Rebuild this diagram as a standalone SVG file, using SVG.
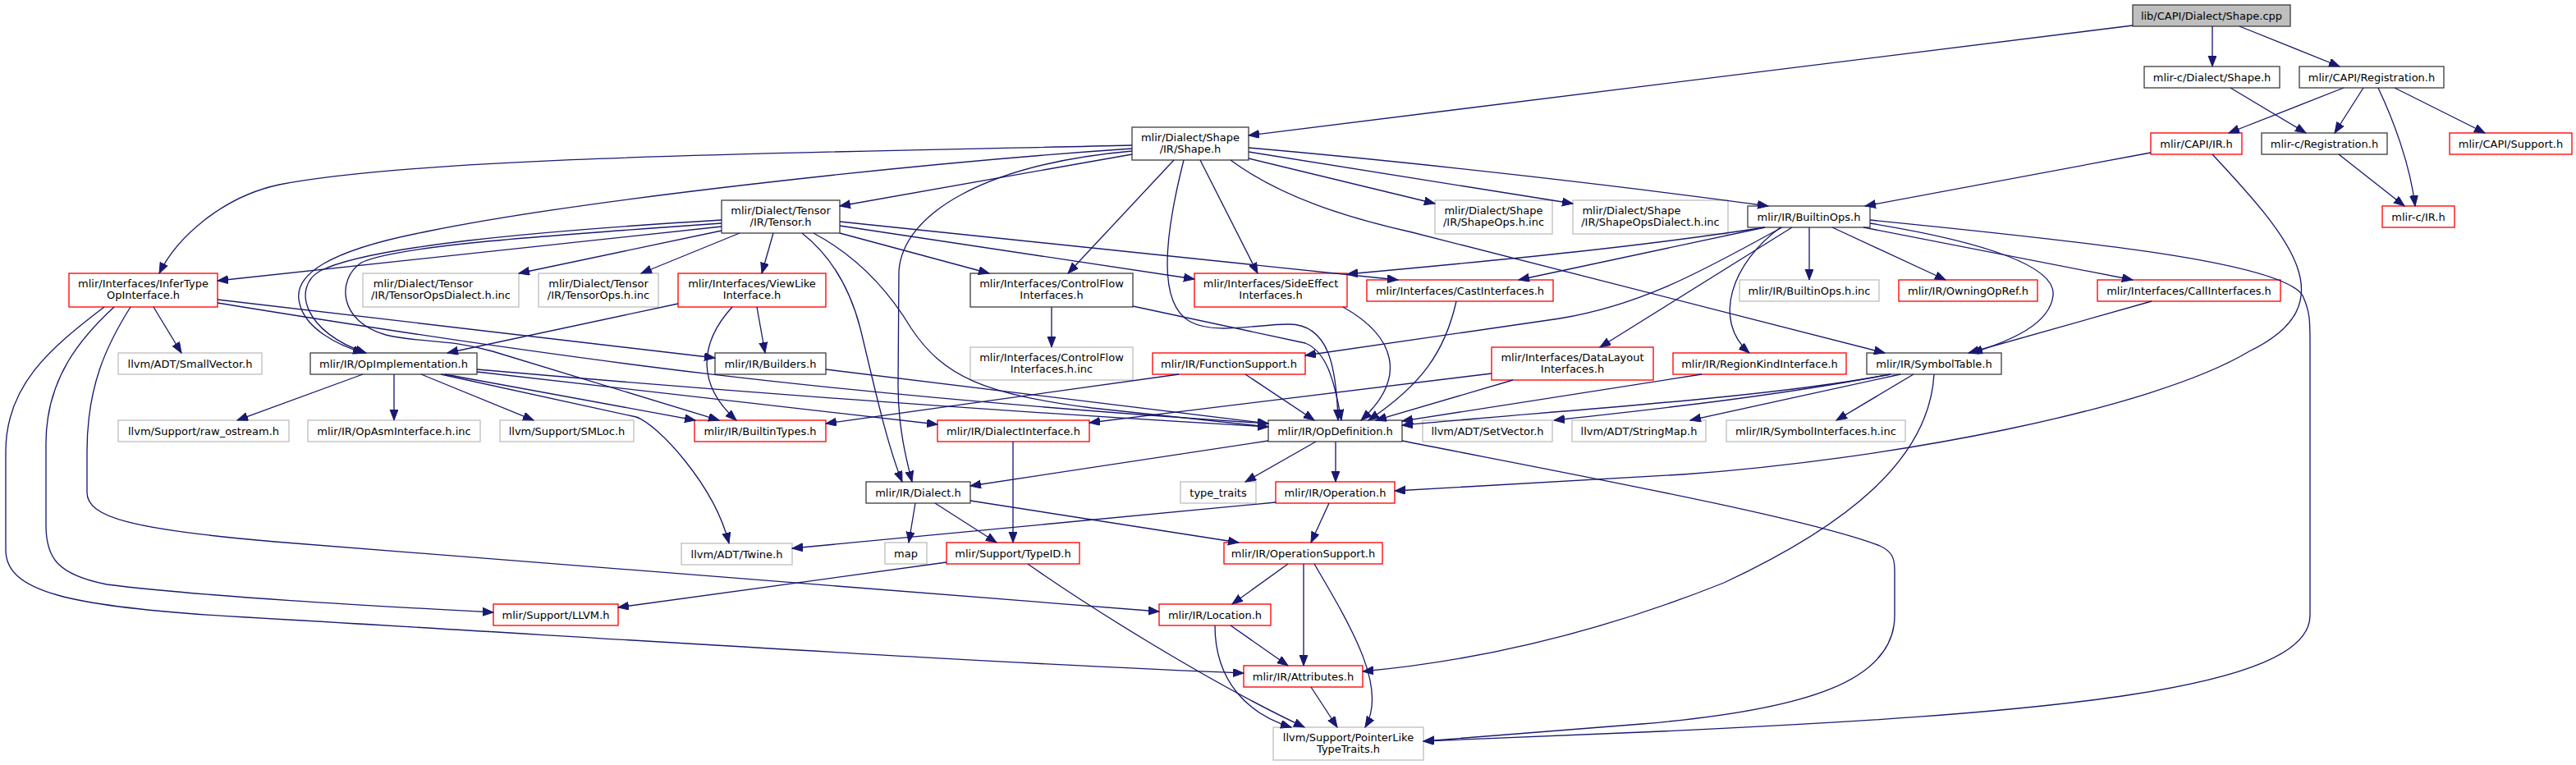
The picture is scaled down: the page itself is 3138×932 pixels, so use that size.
<svg xmlns="http://www.w3.org/2000/svg" width="3138" height="932" viewBox="0 0 3138 932">
<style>
.n rect{fill:#fff;stroke-width:1.33}
.k rect{stroke:#404040}
.r rect{stroke:#ff0000}
.g rect{stroke:#bfbfbf}
#n0 rect{fill:#bfbfbf}
text{font-family:"DejaVu Sans","Liberation Sans",sans-serif;font-size:13px;text-anchor:middle;fill:#000}
#edges path{fill:none;stroke:#191970;stroke-width:1.33;marker-end:url(#a)}
</style>
<defs>
<marker id="a" markerUnits="userSpaceOnUse" markerWidth="14" markerHeight="11" refX="13" refY="5" orient="auto"><path d="M0,0 L13,5 L0,10 z" fill="#191970" stroke="#191970" stroke-width="1"/></marker>
</defs>
<rect width="3138" height="932" fill="#fff"/>
<g id="nodes">
<g id="n0" class="n k"><rect x="2598" y="6" width="192" height="26"/><text x="2694" y="23.5">lib/CAPI/Dialect/Shape.cpp</text></g>
<g id="n1" class="n k"><rect x="2612" y="81" width="165" height="26"/><text x="2694.5" y="98.5">mlir-c/Dialect/Shape.h</text></g>
<g id="n2" class="n k"><rect x="2801" y="81" width="176" height="26"/><text x="2889" y="98.5">mlir/CAPI/Registration.h</text></g>
<g id="n3" class="n r"><rect x="2620" y="162" width="111" height="26"/><text x="2675.5" y="179.5">mlir/CAPI/IR.h</text></g>
<g id="n4" class="n k"><rect x="2755" y="162" width="153" height="26"/><text x="2831.5" y="179.5">mlir-c/Registration.h</text></g>
<g id="n5" class="n r"><rect x="2984" y="162" width="149" height="26"/><text x="3058.5" y="179.5">mlir/CAPI/Support.h</text></g>
<g id="n6" class="n r"><rect x="2902" y="251" width="88" height="26"/><text x="2946" y="268.5">mlir-c/IR.h</text></g>
<g id="n7" class="n k"><rect x="2129" y="251" width="149" height="26"/><text x="2203.5" y="268.5">mlir/IR/BuiltinOps.h</text></g>
<g id="n8" class="n k"><rect x="1379" y="155" width="142" height="40"/><text x="1450" y="171.5">mlir/Dialect/Shape</text><text x="1450" y="186">/IR/Shape.h</text></g>
<g id="n9" class="n g"><rect x="1748" y="244" width="143" height="41"/><text x="1819.5" y="260.5">mlir/Dialect/Shape</text><text x="1819.5" y="275">/IR/ShapeOps.h.inc</text></g>
<g id="n10" class="n g"><rect x="1916" y="244" width="189" height="41"/><text x="1987.5" y="260.5">mlir/Dialect/Shape</text><text x="2010.5" y="275">/IR/ShapeOpsDialect.h.inc</text></g>
<g id="n11" class="n k"><rect x="879" y="244" width="144" height="40"/><text x="951" y="260.5">mlir/Dialect/Tensor</text><text x="951" y="275">/IR/Tensor.h</text></g>
<g id="n12" class="n r"><rect x="84" y="333" width="181" height="41"/><text x="174.5" y="349.5">mlir/Interfaces/InferType</text><text x="174.5" y="364">OpInterface.h</text></g>
<g id="n13" class="n g"><rect x="442" y="333" width="190" height="41"/><text x="515.5" y="349.5">mlir/Dialect/Tensor</text><text x="537" y="364">/IR/TensorOpsDialect.h.inc</text></g>
<g id="n14" class="n g"><rect x="656" y="333" width="146" height="41"/><text x="729" y="349.5">mlir/Dialect/Tensor</text><text x="729" y="364">/IR/TensorOps.h.inc</text></g>
<g id="n15" class="n r"><rect x="826" y="333" width="180" height="41"/><text x="916" y="349.5">mlir/Interfaces/ViewLike</text><text x="916" y="364">Interface.h</text></g>
<g id="n16" class="n k"><rect x="1182" y="333" width="198" height="41"/><text x="1281" y="349.5">mlir/Interfaces/ControlFlow</text><text x="1281" y="364">Interfaces.h</text></g>
<g id="n17" class="n r"><rect x="1455" y="333" width="186" height="41"/><text x="1548" y="349.5">mlir/Interfaces/SideEffect</text><text x="1548" y="364">Interfaces.h</text></g>
<g id="n18" class="n r"><rect x="1665" y="341" width="227" height="26"/><text x="1778.5" y="358.5">mlir/Interfaces/CastInterfaces.h</text></g>
<g id="n19" class="n g"><rect x="2119" y="341" width="170" height="26"/><text x="2204" y="358.5">mlir/IR/BuiltinOps.h.inc</text></g>
<g id="n20" class="n r"><rect x="2313" y="341" width="169" height="26"/><text x="2397.5" y="358.5">mlir/IR/OwningOpRef.h</text></g>
<g id="n21" class="n r"><rect x="2555" y="341" width="223" height="26"/><text x="2666.5" y="358.5">mlir/Interfaces/CallInterfaces.h</text></g>
<g id="n22" class="n g"><rect x="144" y="430" width="175" height="26"/><text x="231.5" y="447.5">llvm/ADT/SmallVector.h</text></g>
<g id="n23" class="n k"><rect x="378" y="430" width="203" height="26"/><text x="479.5" y="447.5">mlir/IR/OpImplementation.h</text></g>
<g id="n24" class="n k"><rect x="871" y="430" width="135" height="26"/><text x="938.5" y="447.5">mlir/IR/Builders.h</text></g>
<g id="n25" class="n g"><rect x="1182" y="423" width="198" height="40"/><text x="1281" y="439.5">mlir/Interfaces/ControlFlow</text><text x="1281" y="454">Interfaces.h.inc</text></g>
<g id="n26" class="n r"><rect x="1404" y="430" width="186" height="26"/><text x="1497" y="447.5">mlir/IR/FunctionSupport.h</text></g>
<g id="n27" class="n r"><rect x="1817" y="423" width="197" height="40"/><text x="1915.5" y="439.5">mlir/Interfaces/DataLayout</text><text x="1915.5" y="454">Interfaces.h</text></g>
<g id="n28" class="n r"><rect x="2038" y="430" width="211" height="26"/><text x="2143.5" y="447.5">mlir/IR/RegionKindInterface.h</text></g>
<g id="n29" class="n k"><rect x="2274" y="430" width="164" height="26"/><text x="2356" y="447.5">mlir/IR/SymbolTable.h</text></g>
<g id="n30" class="n g"><rect x="144" y="512" width="208" height="26"/><text x="248" y="529.5">llvm/Support/raw_ostream.h</text></g>
<g id="n31" class="n g"><rect x="375" y="512" width="210" height="26"/><text x="480" y="529.5">mlir/IR/OpAsmInterface.h.inc</text></g>
<g id="n32" class="n g"><rect x="609" y="512" width="163" height="26"/><text x="690.5" y="529.5">llvm/Support/SMLoc.h</text></g>
<g id="n33" class="n r"><rect x="846" y="512" width="160" height="26"/><text x="926" y="529.5">mlir/IR/BuiltinTypes.h</text></g>
<g id="n34" class="n r"><rect x="1142" y="512" width="185" height="26"/><text x="1234.5" y="529.5">mlir/IR/DialectInterface.h</text></g>
<g id="n35" class="n k"><rect x="1545" y="512" width="163" height="26"/><text x="1626.5" y="529.5">mlir/IR/OpDefinition.h</text></g>
<g id="n36" class="n g"><rect x="1733" y="512" width="158" height="26"/><text x="1812" y="529.5">llvm/ADT/SetVector.h</text></g>
<g id="n37" class="n g"><rect x="1915" y="512" width="163" height="26"/><text x="1996.5" y="529.5">llvm/ADT/StringMap.h</text></g>
<g id="n38" class="n g"><rect x="2103" y="512" width="218" height="26"/><text x="2212" y="529.5">mlir/IR/SymbolInterfaces.h.inc</text></g>
<g id="n39" class="n k"><rect x="1055" y="587" width="127" height="26"/><text x="1118.5" y="604.5">mlir/IR/Dialect.h</text></g>
<g id="n40" class="n g"><rect x="1438" y="587" width="92" height="26"/><text x="1484" y="604.5">type_traits</text></g>
<g id="n41" class="n r"><rect x="1554" y="587" width="145" height="26"/><text x="1626.5" y="604.5">mlir/IR/Operation.h</text></g>
<g id="n42" class="n g"><rect x="830" y="662" width="135" height="26"/><text x="897.5" y="679.5">llvm/ADT/Twine.h</text></g>
<g id="n43" class="n g"><rect x="1078" y="661" width="51" height="26"/><text x="1103.5" y="678.5">map</text></g>
<g id="n44" class="n r"><rect x="1153" y="661" width="162" height="26"/><text x="1234" y="678.5">mlir/Support/TypeID.h</text></g>
<g id="n45" class="n r"><rect x="1491" y="661" width="193" height="26"/><text x="1587.5" y="678.5">mlir/IR/OperationSupport.h</text></g>
<g id="n46" class="n r"><rect x="601" y="736" width="152" height="26"/><text x="677" y="753.5">mlir/Support/LLVM.h</text></g>
<g id="n47" class="n r"><rect x="1412" y="736" width="136" height="26"/><text x="1480" y="753.5">mlir/IR/Location.h</text></g>
<g id="n48" class="n r"><rect x="1515" y="811" width="145" height="26"/><text x="1587.5" y="828.5">mlir/IR/Attributes.h</text></g>
<g id="n49" class="n g"><rect x="1551" y="886" width="183" height="40"/><text x="1642.5" y="902.5">llvm/Support/PointerLike</text><text x="1642.5" y="917">TypeTraits.h</text></g>
</g>
<g id="edges">
<path d="M2598,31 L1521,165"/>
<path d="M2695,32 L2695,81"/>
<path d="M2728,32 L2850,81"/>
<path d="M2717,107 L2809,162"/>
<path d="M2855,107 L2715,162"/>
<path d="M2879,107 L2844,162"/>
<path d="M2897,107 C2915,145 2936,200 2942,251"/>
<path d="M2917,107 L3027,162"/>
<path d="M2849,188 L2929,251"/>
<path d="M2620,186 L2272,251"/>
<path d="M2695,188 C2790,290 2860,370 2740,428 C2620,500 2300,560 2050,578 L1699,598"/>
<path d="M1379,177 C1000,186 520,190 340,225 C270,240 215,290 194,333"/>
<path d="M1379,181 C1100,200 700,245 520,282 C400,305 355,335 365,370 C372,400 410,420 443,430"/>
<path d="M1379,188 L1023,251"/>
<path d="M1379,184 C1200,200 1100,260 1095,330 L1094,470 C1094,520 1104,560 1111,587"/>
<path d="M1430,195 L1301,333"/>
<path d="M1442,195 C1418,290 1410,370 1450,392 C1480,408 1530,395 1570,395 C1620,395 1628,450 1630,512"/>
<path d="M1462,195 L1532,333"/>
<path d="M1499,195 C1560,240 1640,265 1720,283 L2296,430"/>
<path d="M1521,193 L1748,248"/>
<path d="M1521,185 L1916,248"/>
<path d="M1521,180 C1750,200 2000,230 2154,251"/>
<path d="M879,268 C650,282 450,300 390,330 C355,350 370,405 446,430"/>
<path d="M879,272 C650,288 480,300 440,320 C410,340 412,392 470,408 C510,418 545,412 600,428 L876,512"/>
<path d="M879,276 L265,342"/>
<path d="M879,281 L632,333"/>
<path d="M901,284 L781,333"/>
<path d="M942,284 L928,333"/>
<path d="M977,284 C1010,310 1035,350 1048,400 C1065,470 1080,540 1099,587"/>
<path d="M991,284 C1040,310 1080,350 1110,400 C1150,460 1200,480 1330,497 L1545,520"/>
<path d="M1023,270 L1703,341"/>
<path d="M1023,275 L1455,340"/>
<path d="M1023,284 L1205,333"/>
<path d="M187,374 L221,430"/>
<path d="M265,365 L871,436"/>
<path d="M265,369 C700,440 1000,480 1545,516"/>
<path d="M127,374 C60,425 7,470 7,550 L7,670 C7,720 80,740 300,752 C700,775 1200,808 1515,820"/>
<path d="M139,374 C100,410 56,460 56,540 L56,640 C56,680 70,700 130,712 C250,727 450,738 601,746"/>
<path d="M159,374 C130,420 106,470 106,550 L106,600 C106,630 160,645 335,660 L1412,745"/>
<path d="M826,370 L545,430"/>
<path d="M922,374 L932,430"/>
<path d="M892,374 C850,420 850,470 897,512"/>
<path d="M1281,374 L1281,423"/>
<path d="M1380,373 L1590,418 C1615,428 1625,460 1634,512"/>
<path d="M1636,374 C1700,410 1715,460 1658,512"/>
<path d="M1774,367 C1760,430 1730,470 1667,512"/>
<path d="M2204,277 L2204,341"/>
<path d="M2232,277 L2370,341"/>
<path d="M2270,277 L2598,341"/>
<path d="M2278,272 C2420,295 2505,325 2501,360 C2497,395 2450,415 2402,430"/>
<path d="M2278,268 C2550,295 2780,320 2805,360 C2814,380 2814,390 2814,420 L2814,750 C2814,840 2500,870 2000,892 L1734,903"/>
<path d="M2150,277 C2000,300 1850,315 1641,334"/>
<path d="M2150,277 L1850,341"/>
<path d="M2171,277 C2090,320 2010,370 1900,388 C1780,405 1680,420 1590,433"/>
<path d="M2183,277 L1949,423"/>
<path d="M2169,277 C2110,320 2085,390 2131,430"/>
<path d="M2621,367 L2398,430"/>
<path d="M1517,456 L1601,512"/>
<path d="M1436,456 L1006,516"/>
<path d="M1843,463 L1676,512"/>
<path d="M1817,455 L1327,515"/>
<path d="M2073,456 L1708,513"/>
<path d="M2303,456 C2150,485 1900,500 1708,518"/>
<path d="M2303,456 C2150,485 2000,500 1893,512"/>
<path d="M2315,456 L2059,512"/>
<path d="M2331,456 L2237,512"/>
<path d="M2356,456 C2350,560 2250,640 2100,710 C1950,770 1800,805 1660,818"/>
<path d="M442,456 L289,512"/>
<path d="M480,456 L480,512"/>
<path d="M513,456 L650,512"/>
<path d="M542,456 L847,512"/>
<path d="M537,456 L775,508 C800,516 870,590 888,662"/>
<path d="M581,453 L1142,517"/>
<path d="M581,450 C900,478 1200,500 1545,520"/>
<path d="M1006,450 L1545,516"/>
<path d="M1545,537 L1182,592"/>
<path d="M1603,538 L1517,587"/>
<path d="M1627,538 L1627,587"/>
<path d="M1708,537 C1900,575 2200,630 2290,665 C2305,672 2308,680 2308,695 L2308,750 C2308,830 2200,865 2000,882 L1734,903"/>
<path d="M1234,538 L1234,661"/>
<path d="M1115,613 L1107,661"/>
<path d="M1139,613 L1214,661"/>
<path d="M1182,610 L1509,661"/>
<path d="M1554,612 L965,668"/>
<path d="M1619,613 L1597,661"/>
<path d="M1153,685 L753,740"/>
<path d="M1252,687 C1320,735 1470,830 1589,886"/>
<path d="M1569,687 L1501,736"/>
<path d="M1588,687 L1588,811"/>
<path d="M1601,687 C1650,770 1690,840 1663,886"/>
<path d="M1499,762 L1569,811"/>
<path d="M1480,762 C1480,830 1520,870 1573,886"/>
<path d="M1597,837 L1629,886"/>
</g>
</svg>
